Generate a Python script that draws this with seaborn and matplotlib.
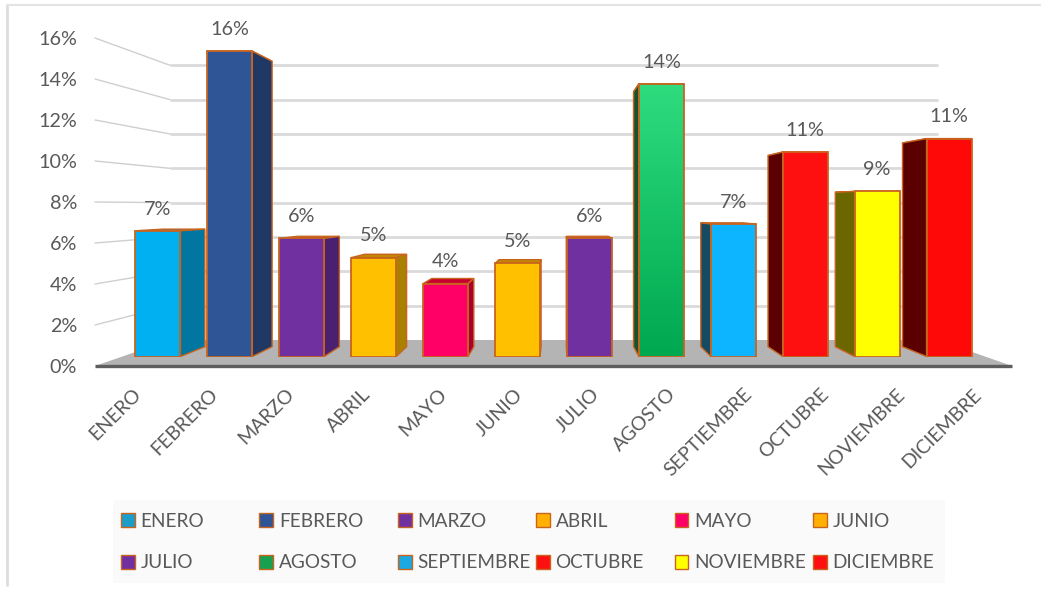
import numpy as np
import pandas as pd
import seaborn as sns
import matplotlib
matplotlib.use("Agg")
import matplotlib.pyplot as plt
from matplotlib.colors import LinearSegmentedColormap
from matplotlib.lines import Line2D
from matplotlib.patches import Patch, Rectangle
from matplotlib.transforms import ScaledTranslation

months = ["ENERO", "FEBRERO", "MARZO", "ABRIL", "MAYO", "JUNIO", "JULIO",
          "AGOSTO", "SEPTIEMBRE", "OCTUBRE", "NOVIEMBRE", "DICIEMBRE"]
values = [6.55, 15.9, 6.15, 5.15, 3.8, 4.85, 6.15, 14.2, 6.9, 10.65, 8.6, 11.35]
front_colors = ["#00B0F0", "#2F5597", "#7030A0", "#FFC000", "#FF0066", "#FFC000",
                "#7030A0", "#16BC62", "#0DB4FF", "#FF1010", "#FFFF00", "#FF0808"]
side_colors = ["#0076A0", "#1F3864", "#4A2070", "#AA8000", "#AA0030", "#AA8000",
               "#4A2070", "#14532D", "#154A63", "#5A0000", "#6B6600", "#5A0000"]
top_colors = ["#0088B8", "#24427A", "#8A3A20", "#C08A00", "#C80030", "#C08A00",
              "#A04020", "#1E8048", "#1A6A8A", "#C01010", "#A09000", "#E01010"]
legend_colors = ["#1C9CC8", "#2F5597", "#7030A0", "#FFB000", "#FF0066", "#FFB000",
                 "#7030A0", "#16A050", "#1CA8E0", "#FF1010", "#FFFF00", "#FF1010"]
y_ticks = [0, 2, 4, 6, 8, 10, 12, 14, 16]

W, H = 1041, 589
TEXT = "#595959"
EDGE = "#C8641E"

sns.set_theme(style="white")
plt.rcParams["font.family"] = ["Lato", "DejaVu Sans"]

fig = plt.figure(figsize=(W / 100, H / 100), dpi=100, facecolor="white")


def box(x0, x1, y_bottom, y_top):
    return [x0 / W, 1 - y_bottom / H, (x1 - x0) / W, (y_bottom - y_top) / H]


# Front plane of the 3-D box: carries the value and category axes
ax_front = fig.add_axes(box(95, 1012, 366, 38))
ax_front.set_xlim(-0.5, 11.5)
ax_front.set_ylim(0, 16)
ax_front.patch.set_alpha(0)
sns.despine(ax=ax_front, left=True, bottom=True, top=True, right=True)
ax_front.set_yticks(y_ticks)
ax_front.set_yticklabels([f"{t}%" for t in y_ticks], color=TEXT, fontsize=14.2)
ax_front.set_xticks(range(len(months)))
ax_front.set_xticklabels(months, rotation=45, ha="right", va="top",
                         rotation_mode="anchor", color=TEXT, fontsize=14)
ax_front.tick_params(axis="y", length=0, pad=13)
ax_front.tick_params(axis="x", length=0, pad=14)
for lab in ax_front.get_xticklabels():
    lab.set_transform(lab.get_transform() + ScaledTranslation(-1 / 100, 0, fig.dpi_scale_trans))

# Back wall and floor derived from the front plane by a perspective shrink
BACK = 0.8375
vx_f = (556.5 - 95) / 917 * 12 - 0.5
vy_f = (366 - 206) / 20.5


def to_back(x, y, k=BACK):
    return vx_f + (x - vx_f) * k, vy_f + (y - vy_f) * k


xl, xr = -0.5, 11.5
for t in y_ticks[1:]:
    bx0, by = to_back(xl, t)
    bx1, _ = to_back(xr, t)
    ax_front.plot([bx0, bx1], [by, by], color="#DADADA", lw=2.0, zorder=1, clip_on=False,
                  solid_capstyle="butt")
    ax_front.plot([xl, bx0], [t, by], color="#CFCFCF", lw=1.0, zorder=1, clip_on=False)

bl = to_back(xl, 0)
br = to_back(xr, 0)
ax_front.fill([xl, xr, br[0], bl[0]], [0, 0, br[1], bl[1]], color="#B4B4B4", lw=0, zorder=1.5,
              clip_on=False)
ax_front.plot([xl, xr], [0, 0], color="#5E5E5E", lw=2.4, zorder=2, clip_on=False,
              solid_capstyle="butt")
ax_front.set_xlim(xl, xr)
ax_front.set_ylim(0, 16)

# Bars live on a plane set slightly behind the front plane
BAR_PX = 19.2
ax_bar = fig.add_axes(box(122, 985, 356.5, 356.5 - 17 * BAR_PX))
ax_bar.patch.set_alpha(0)
df = pd.DataFrame({"mes": months, "valor": values})
sns.barplot(data=df, x="mes", y="valor", hue="mes", hue_order=months, order=months,
            palette=dict(zip(months, front_colors)), dodge=False, legend=False, width=0.625,
            edgecolor=EDGE, linewidth=1.3, saturation=1, zorder=3, ax=ax_bar)
ax_bar.set_xlim(-0.5, 11.5)
ax_bar.set_ylim(0, 17)
ax_bar.set_axis_off()

vx = (556.5 - 122) / 863 * 12 - 0.5
vy = (356.5 - 206) / BAR_PX
DEPTH = 0.065


def deep(x, y):
    return x + (vx - x) * DEPTH, y + (vy - y) * DEPTH


bars = [c[0] for c in ax_bar.containers]
for i, patch in enumerate(bars):
    x0, x1 = patch.get_x(), patch.get_x() + patch.get_width()
    h = patch.get_height()
    dx0, dy_t0 = deep(x0, h)
    dx1, dy_t1 = deep(x1, h)
    _, dy_b0 = deep(x0, 0)
    kw = dict(edgecolor=EDGE, linewidth=1.0, zorder=2, clip_on=False)
    ax_bar.fill([x0, x1, dx1, dx0], [h, h, dy_t1, dy_t0], facecolor=top_colors[i], **kw)
    if x1 < vx:
        ax_bar.fill([x1, dx1, dx1, x1], [0, dy_b0, dy_t1, h], facecolor=side_colors[i], **kw)
    elif x0 > vx:
        ax_bar.fill([x0, dx0, dx0, x0], [0, dy_b0, dy_t0, h], facecolor=side_colors[i], **kw)

# AGOSTO has a visible vertical gradient
ago = bars[months.index("AGOSTO")]
cmap = LinearSegmentedColormap.from_list("ago", ["#00A84F", "#2EDC7E"])
img = ax_bar.imshow(np.linspace(0, 1, 64).reshape(-1, 1), origin="lower", cmap=cmap, aspect="auto",
                    extent=[ago.get_x(), ago.get_x() + ago.get_width(), 0, ago.get_height()],
                    zorder=2.5)
img.set_clip_path(ago)
ago.set_facecolor("none")
ax_bar.set_xlim(-0.5, 11.5)
ax_bar.set_ylim(0, 17)

for cont in ax_bar.containers:
    ax_bar.bar_label(cont, fmt="{:.0f}%", padding=9.5, color=TEXT, fontsize=14.2)

# Legend: grey panel with six equally spaced columns
fig.add_artist(Rectangle((113 / W, 1 - 583 / H), 832 / W, 83 / H, transform=fig.transFigure,
                         facecolor="#FAFAFA", edgecolor="none", zorder=0))
handles = [Patch(facecolor=c, edgecolor=EDGE, linewidth=1.0) for c in legend_colors]
for col in range(6):
    idx = [col, col + 6]
    fig.legend([handles[i] for i in idx], [months[i] for i in idx],
               loc="center left", bbox_to_anchor=((121 + 138.4 * col) / W, 1 - 542 / H),
               frameon=False, ncol=1, fontsize=13.7, labelcolor=TEXT,
               handlelength=0.72, handleheight=0.72, handletextpad=0.3,
               labelspacing=1.3, borderpad=0, borderaxespad=0)

# Thin frame of the pasted chart
fig.add_artist(Line2D([7 / W, 7 / W], [1 - 585 / H, 1 - 5 / H], color="#DDDDDD", lw=2.0))
fig.add_artist(Line2D([7 / W, 1], [1 - 5 / H, 1 - 5 / H], color="#E4E4E4", lw=1.6))

fig.savefig("out.png", dpi=100, facecolor="white")
